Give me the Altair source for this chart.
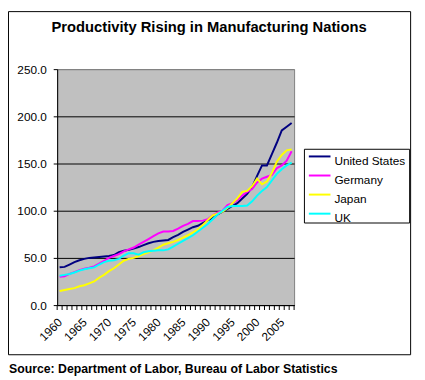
import altair as alt
import pandas as pd

years = list(range(1960, 2008))
united_states = [40, 40.5, 43, 45.5, 47.5, 49, 50, 50.5, 51, 51.5,
                 52, 53, 56, 57.5, 58.5, 60, 61.5, 63.5, 65.5, 67,
                 68, 68.5, 69, 72, 74.5, 77.5, 80, 82.5, 84, 87,
                 90, 92, 96, 99, 102, 105, 108, 113, 118, 125,
                 137, 148, 148, 160, 172, 185, 189, 193]
germany = [30, 30.5, 33, 35, 37, 38.5, 39.5, 41, 44, 47,
           50, 52, 54, 57, 59, 61, 64, 67, 70, 73,
           76, 78, 78, 78.5, 81, 84, 86, 89, 89, 89.5,
           91, 95, 98, 100, 106, 108, 111, 116, 120, 123,
           130, 134, 136, 138, 145, 148, 153, 163]
japan = [15, 16, 17, 18, 20, 21, 23, 25, 29, 32,
         36, 39, 43, 47, 49, 50, 52, 54, 56, 58,
         61, 64, 65.5, 67, 69, 71.5, 74, 77, 80, 85,
         90, 95, 97, 99, 103, 108, 113, 120, 121, 126,
         134, 128, 131, 140, 152, 159, 164, 165]
uk = [31, 32, 33, 34.5, 36.5, 38, 39, 40, 43, 45.5,
      47, 47.5, 49, 52.5, 55, 55, 53.5, 56, 57, 57.5,
      58, 58, 59, 62, 65, 68, 71, 74, 78, 82,
      86, 91, 96, 100, 104, 105, 105, 105, 105.5, 110,
      116, 121, 125, 132, 139, 144, 148, 151]

series_names = ["United States", "Germany", "Japan", "UK"]
series_colors = ["#000080", "#FF00FF", "#FFFF00", "#00FFFF"]
y_ticks = [0, 50, 100, 150, 200, 250]
x_label_years = [1960, 1965, 1970, 1975, 1980, 1985, 1990, 1995, 2000, 2005]
title_text = "Productivity Rising in Manufacturing Nations"
source_text = "Source: Department of Labor, Bureau of Labor Statistics"

rows = []
for i, (name, vals) in enumerate(zip(series_names, [united_states, germany, japan, uk])):
    for yr, v in zip(years, vals):
        rows.append({"year": yr, "value": v, "country": name, "k": i})
df = pd.DataFrame(rows)
edges = pd.DataFrame({"edge": [y - 0.5 for y in years] + [years[-1] + 0.5]})
legend_df = pd.DataFrame({"country": series_names, "k": list(range(len(series_names)))})
one = pd.DataFrame({"a": [0]})

W, H = 241, 240
FONT = "Liberation Sans"

x_scale = alt.Scale(domain=[years[0] - 0.5, years[-1] + 0.5], nice=False, zero=False)
y_scale = alt.Scale(domain=[0, 250], nice=False)
color_scale = alt.Scale(domain=series_names, range=series_colors)

x_axis = alt.Axis(values=x_label_years, title=None, labelAngle=-45, labelAlign="right",
                  labelBaseline="middle", ticks=False, tickSize=0, labelPadding=15,
                  domainColor="black", grid=False, labelFont=FONT, labelFontSize=12,
                  labelColor="black", format="d", labelFlush=False, labelOverlap=False)
y_axis = alt.Axis(values=y_ticks, format=".1f", title=None, tickSize=4, tickColor="black",
                  domainColor="black", labelPadding=7, labelFont=FONT, labelFontSize=12,
                  labelColor="black",
                  gridColor=alt.condition("datum.value == 250", alt.value("#808080"), alt.value("black")),
                  gridOpacity=1, labelFlush=False)

border = alt.Chart(one).mark_rect(fillOpacity=0, stroke="black", strokeWidth=1).encode(
    x=alt.value(-49.5), x2=alt.value(359.5), y=alt.value(-58.5), y2=alt.value(290.5))

lines = alt.Chart(df).mark_line(strokeWidth=2).encode(
    x=alt.X("year:Q", scale=x_scale, axis=x_axis),
    y=alt.Y("value:Q", scale=y_scale, axis=y_axis),
    color=alt.Color("country:N", scale=color_scale, legend=None),
    order="k:Q",
)

ticks = alt.Chart(edges).mark_rule(color="black", strokeWidth=1).encode(
    x=alt.X("edge:Q", scale=x_scale, axis=x_axis),
    y=alt.value(H), y2=alt.value(H + 5))

# legend (frame + entries)
legend_frame = alt.Chart(one).mark_rect(fill="white", stroke="black", strokeWidth=1).encode(
    x=alt.value(251.5), x2=alt.value(358.5), y=alt.value(81.5), y2=alt.value(156.5))

legend_base = alt.Chart(legend_df).transform_calculate(ly="88.8 + datum.k * 19.4")
legend_lines = legend_base.mark_rule(strokeWidth=2).encode(
    x=alt.value(256), x2=alt.value(278),
    y=alt.Y("ly:Q", scale=None, axis=None),
    color=alt.Color("country:N", scale=color_scale, legend=None))
legend_text = legend_base.mark_text(align="left", baseline="alphabetic", dy=8.5, font=FONT,
                                    fontSize=12, color="black").encode(
    x=alt.value(282),
    y=alt.Y("ly:Q", scale=None, axis=None),
    text="country:N")

title = alt.Chart(one).mark_text(text=title_text, font=FONT, fontSize=15, fontWeight="bold",
                                 align="center", baseline="alphabetic", color="black").encode(
    x=alt.value(154.5), y=alt.value(-38))

source = alt.Chart(one).mark_text(text=source_text, font=FONT, fontSize=12.5, fontWeight="bold",
                                  align="left", baseline="alphabetic", color="black").encode(
    x=alt.value(-49), y=alt.value(309))

chart = alt.layer(border, lines, ticks, legend_frame, legend_lines, legend_text, title, source).properties(
    width=W, height=H,
    autosize=alt.AutoSizeParams(type="none"),
    padding={"left": 50, "top": 59, "right": 125, "bottom": 73},
).configure_view(fill="#C0C0C0", stroke="#808080", strokeWidth=1)

chart.save("out.html", embed_options={"renderer": "svg", "actions": False})
